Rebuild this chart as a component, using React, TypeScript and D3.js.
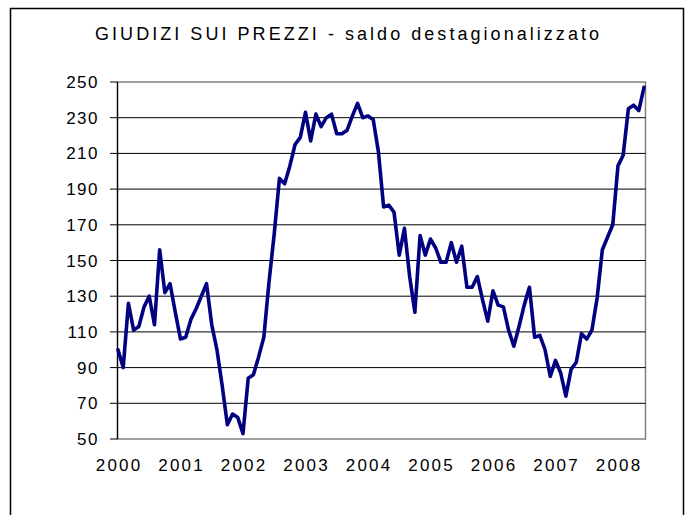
import React from "react";
import * as d3 from "d3";

const title = "GIUDIZI SUI PREZZI - saldo destagionalizzato";
const yearLabels = ["2000", "2001", "2002", "2003", "2004", "2005", "2006", "2007", "2008"];
const yTicks = [50, 70, 90, 110, 130, 150, 170, 190, 210, 230, 250];
// monthly values, Jan 2000 – Jun 2008
const values = [
  100, 90, 126, 111, 113, 124, 130, 114, 156, 132, 137, 121,
  106, 107, 117, 123, 130, 137, 114, 100, 80, 58, 64, 62,
  53, 84, 86, 96, 107, 138, 165, 196, 193, 203, 215, 219,
  233, 217, 232, 225, 230, 232, 221, 221, 223, 231, 238, 230,
  231, 229, 211, 180, 181, 177, 153, 168, 141, 121, 164, 153,
  162, 157, 149, 149, 160, 149, 158, 135, 135, 141, 128, 116,
  133, 125, 124, 111, 102, 113, 125, 135, 107, 108, 100, 85,
  94, 87, 74, 89, 93, 109, 106, 111, 129, 156, 163, 170,
  203, 209, 235, 237, 234, 247,
];

export default function App() {
  const W = 686, H = 515;
  const left = 117.5, right = 645.5, top = 82, bottom = 439;
  const x = d3.scaleLinear().domain([0, values.length - 1]).range([118, 644]);
  const y = d3.scaleLinear().domain([50, 250]).range([bottom, top]);
  const line = d3.line<number>().x((_, i) => x(i)).y((d) => y(d));
  const font = "'Liberation Sans', Arial, sans-serif";
  return (
    <svg width={W} height={H} style={{ position: "absolute", left: 0, top: 0 }}>
      <rect x={0} y={0} width={W} height={H} fill="#fff" />
      <rect x={10.5} y={8.5} width={673} height={520} fill="#fff" stroke="#000" strokeWidth={1.5} />
      <text x={95} y={40} fontFamily={font} fontSize={18} textLength={504} lengthAdjust="spacing" fill="#000">
        {title}
      </text>
      <rect x={left} y={top} width={right - left} height={bottom - top} fill="#fff" stroke="#808080" strokeWidth={1.5} />
      {yTicks.filter((t) => t !== 50 && t !== 250).map((t) => (
        <line key={t} x1={left} x2={right} y1={y(t)} y2={y(t)} stroke="#000" strokeWidth={1} />
      ))}
      <line x1={left} x2={left} y1={top} y2={bottom} stroke="#000" strokeWidth={1.2} />
      {yTicks.map((t) => (
        <g key={t}>
          <line x1={110} x2={left} y1={y(t)} y2={y(t)} stroke="#000" strokeWidth={1} />
          <text x={99} y={y(t) + 6} textAnchor="end" fontFamily={font} fontSize={17} letterSpacing={1.5} fill="#000">
            {t}
          </text>
        </g>
      ))}
      {yearLabels.map((lab, k) => (
        <text key={lab} x={x(k * 12) + 1.1} y={471} textAnchor="middle" fontFamily={font} fontSize={17} letterSpacing={2.2} fill="#000">
          {lab}
        </text>
      ))}
      <path d={line(values) || ""} fill="none" stroke="#000080" strokeWidth={3.6} strokeLinejoin="round" strokeLinecap="round" />
    </svg>
  );
}
